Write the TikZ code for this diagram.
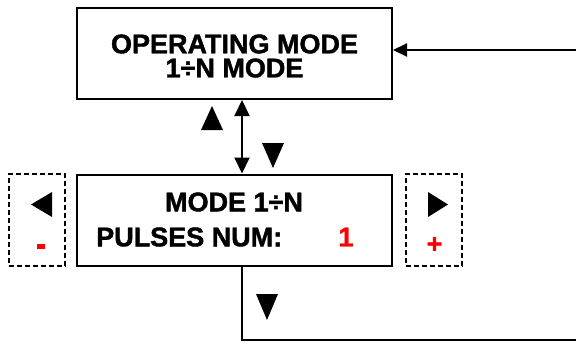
\documentclass[tikz,border=0pt]{standalone}
\usepackage{fontspec}
\setmainfont{Liberation Sans}[BoldFeatures={FakeBold=1.5}]
\usepackage{tikz}
\usetikzlibrary{arrows.meta}

\begin{document}
\begin{tikzpicture}[x=1pt, y=-1pt,
        screen/.style={draw, line width=2pt, inner sep=0pt, minimum width=315pt, minimum height=91pt},
        key/.style={draw, line width=1.3pt, dash pattern=on 5pt off 3pt, inner sep=0pt, minimum width=56pt, minimum height=92pt},
        lcd/.style={font=\fontsize{27}{24}\selectfont\bfseries, inner sep=0pt},
        flow/.style={line width=2pt}]
    \useasboundingbox (0, 0) rectangle (576, 343);
    \node[screen] (menu) at (234.5, 53.5) {};
    \node[screen] (param) at (234.5, 220) {};
    \node[key] (minus) at (37, 220) {};
    \node[key] (plus) at (434, 220) {};
    % display text
    \node[lcd] (opmode) at (234.5, 44) {OPERATING MODE};
    \node[lcd] (nmode) at (234.5, 68) {1÷N MODE};
    \node[lcd] (title) at (234, 202) {MODE 1÷N};
    \node[lcd, anchor=west] (pulses) at (96, 237) {PULSES NUM:};
    \node[lcd, text=red] (num) at (346, 237) {1};
    \fill[red] (37, 244) rectangle (45, 248.5);
    \node[lcd, text=red] (inc) at (434.5, 245) {+};
    % links
    \coordinate (entry) at (576, 50);
    \coordinate (exit) at (576, 340);
    \draw[flow, {Triangle[length=16pt, width=15pt]}-{Triangle[length=16pt, width=15pt]}] ([xshift=7.5pt]menu.south) -- ([xshift=7.5pt]param.north);
    \draw[flow, -{Triangle[length=14pt, width=13pt]}] (entry) -- (menu.east |- entry);
    \draw[flow] ([xshift=7.5pt]param.south) |- (exit);
    % keys
    \fill (212, 106) -- (223, 130) -- (201, 130) -- cycle;
    \fill (262, 143) -- (284, 143) -- (273, 168) -- cycle;
    \fill (256, 294) -- (278, 294) -- (267, 320) -- cycle;
    \fill (31, 204.5) -- (52, 192) -- (52, 217) -- cycle;
    \fill (448, 204.5) -- (428, 192) -- (428, 217) -- cycle;
\end{tikzpicture}
\end{document}
